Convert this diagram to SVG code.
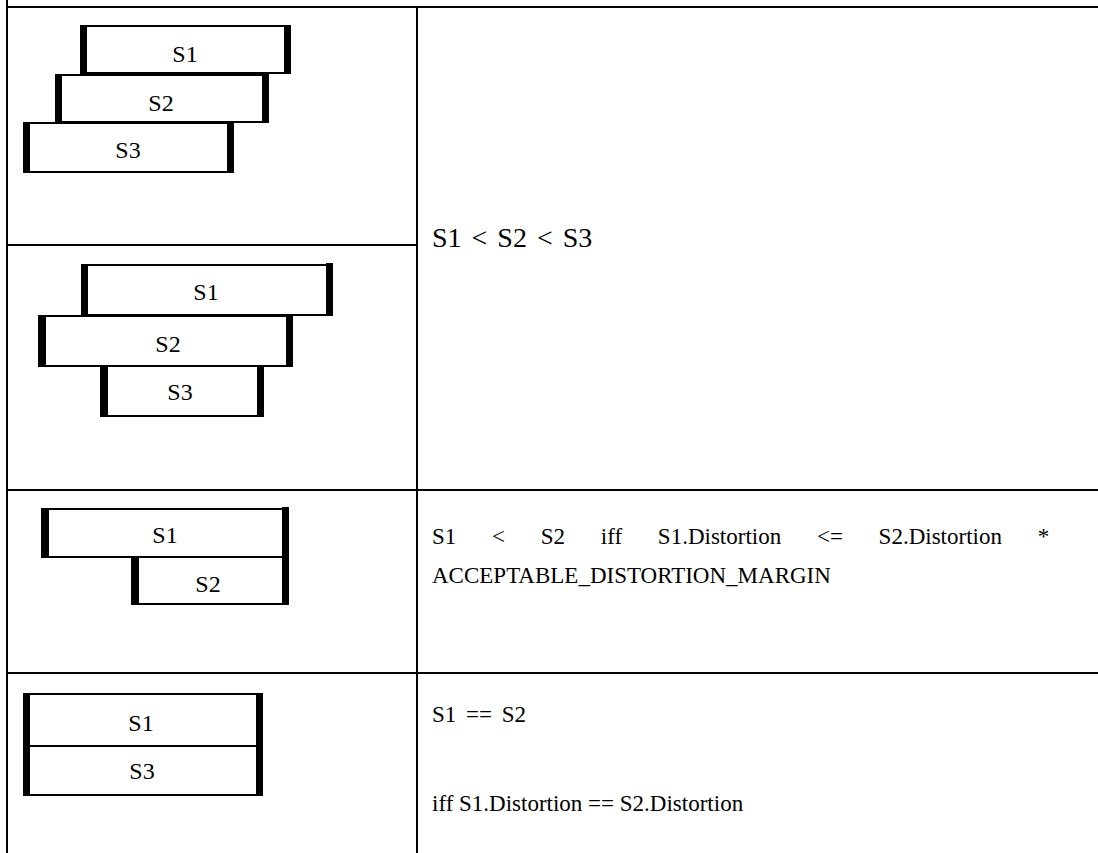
<svg xmlns="http://www.w3.org/2000/svg" width="1098" height="853" viewBox="0 0 1098 853">
<style>
.ln{stroke:#000;stroke-width:2;fill:none}
.thin{stroke:#000;stroke-width:2}
.bar{fill:#000}
.lbl{font-family:"Liberation Serif","Times New Roman",serif;font-size:24px;fill:#000;text-anchor:middle}
.txt{font-family:"Liberation Serif","Times New Roman",serif;font-size:23px;fill:#000}
</style>
<rect width="1098" height="853" fill="#fff"/>
<g id="table">
<line class="ln" x1="7" y1="0" x2="7" y2="853"/>
<line class="ln" x1="7" y1="7" x2="1098" y2="7"/>
<line class="ln" x1="417" y1="7" x2="417" y2="853"/>
<line class="ln" x1="7" y1="245" x2="417" y2="245"/>
<line class="ln" x1="7" y1="490" x2="1098" y2="490"/>
<line class="ln" x1="7" y1="673" x2="1098" y2="673"/>
</g>
<g id="row1a">
<g id="r1a-s1">
<line class="thin" x1="80" y1="26" x2="291" y2="26"/><line class="thin" x1="80" y1="73" x2="291" y2="73"/>
<rect class="bar" x="80" y="25" width="7" height="49"/><rect class="bar" x="284" y="25" width="7" height="49"/>
<text class="lbl" x="185" y="62">S1</text>
</g>
<g id="r1a-s2">
<line class="thin" x1="55" y1="75" x2="268" y2="75"/><line class="thin" x1="55" y1="122" x2="268" y2="122"/>
<rect class="bar" x="55" y="74" width="7" height="49"/><rect class="bar" x="262" y="74" width="7" height="49"/>
<text class="lbl" x="161" y="111">S2</text>
</g>
<g id="r1a-s3">
<line class="thin" x1="23" y1="123" x2="233" y2="123"/><line class="thin" x1="23" y1="172" x2="233" y2="172"/>
<rect class="bar" x="23" y="122" width="7" height="51"/><rect class="bar" x="227" y="122" width="7" height="51"/>
<text class="lbl" x="128" y="158">S3</text>
</g>
</g>
<g id="row1b">
<g id="r1b-s1">
<line class="thin" x1="81" y1="265" x2="333" y2="265"/><line class="thin" x1="81" y1="315" x2="333" y2="315"/>
<rect class="bar" x="81" y="264" width="7" height="52"/><rect class="bar" x="326" y="263" width="7" height="53"/>
<text class="lbl" x="206" y="300">S1</text>
</g>
<g id="r1b-s2">
<line class="thin" x1="38" y1="316" x2="293" y2="316"/><line class="thin" x1="38" y1="366" x2="293" y2="366"/>
<rect class="bar" x="38" y="315" width="8" height="52"/><rect class="bar" x="286" y="315" width="7" height="52"/>
<text class="lbl" x="168" y="352">S2</text>
</g>
<g id="r1b-s3">
<line class="thin" x1="100" y1="416" x2="264" y2="416"/>
<rect class="bar" x="100" y="366" width="8" height="51"/><rect class="bar" x="257" y="366" width="7" height="51"/>
<text class="lbl" x="180" y="400">S3</text>
</g>
</g>
<g id="row2">
<g id="r2-s1">
<line class="thin" x1="41" y1="509" x2="289" y2="509"/><line class="thin" x1="41" y1="557" x2="289" y2="557"/>
<rect class="bar" x="41" y="508" width="8" height="50"/><rect class="bar" x="282" y="507" width="7" height="51"/>
<text class="lbl" x="165" y="543">S1</text>
</g>
<g id="r2-s2">
<line class="thin" x1="131" y1="604" x2="289" y2="604"/>
<rect class="bar" x="131" y="557" width="8" height="48"/><rect class="bar" x="282" y="557" width="7" height="48"/>
<text class="lbl" x="208" y="592">S2</text>
</g>
</g>
<g id="row3">
<g id="r3-s1s3">
<line class="thin" x1="23" y1="694" x2="263" y2="694"/><line class="thin" x1="23" y1="746" x2="263" y2="746"/><line class="thin" x1="23" y1="795" x2="263" y2="795"/>
<rect class="bar" x="23" y="693" width="7" height="103"/><rect class="bar" x="256" y="693" width="7" height="103"/>
<text class="lbl" x="141" y="731">S1</text>
<text class="lbl" x="142" y="779">S3</text>
</g>
</g>
<g id="descriptions">
<text class="txt" x="432" y="247" style="font-size:28px" word-spacing="3">S1 &lt; S2 &lt; S3</text>
<text class="txt" x="432" y="544" word-spacing="30">S1 &lt; S2 iff S1.Distortion &lt;= S2.Distortion *</text>
<text class="txt" x="432" y="583">ACCEPTABLE_DISTORTION_MARGIN</text>
<text class="txt" x="432" y="722" word-spacing="4">S1 == S2</text>
<text class="txt" x="432" y="811">iff S1.Distortion == S2.Distortion</text>
</g>
<g id="connectors"/>
</svg>
